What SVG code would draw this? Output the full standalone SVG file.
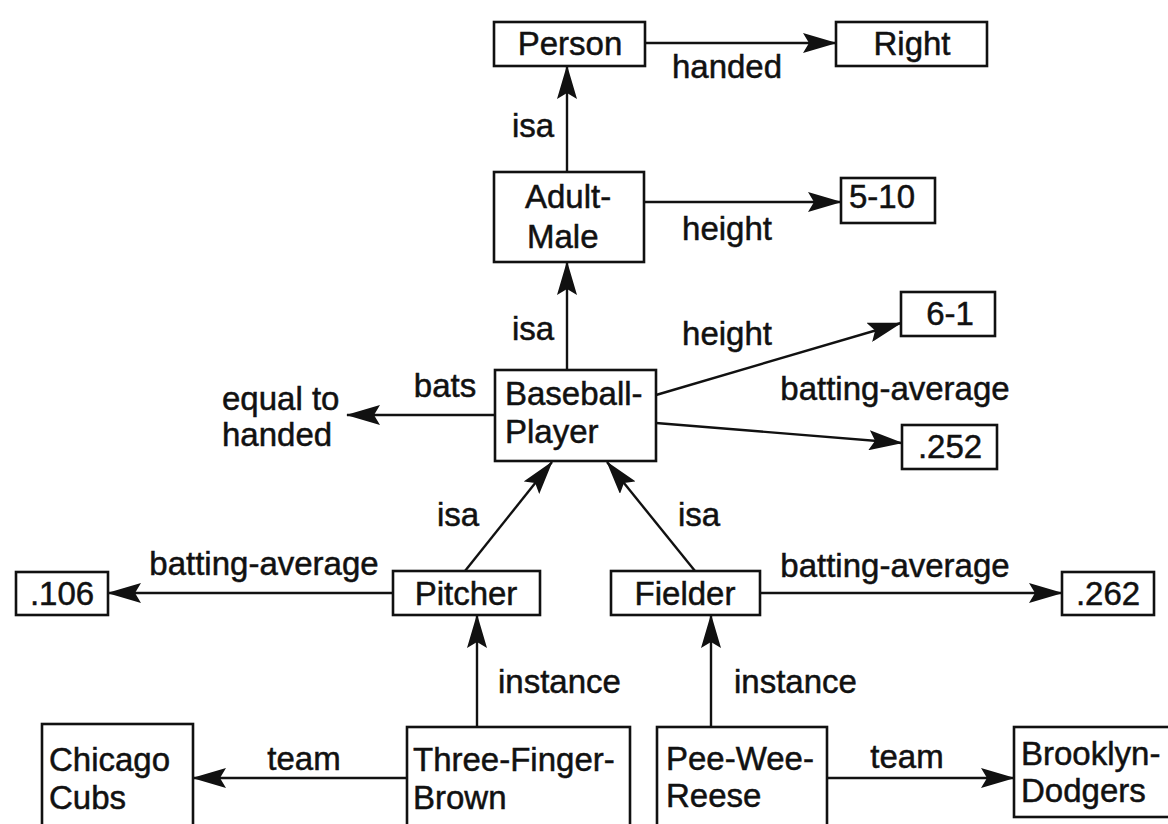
<svg xmlns="http://www.w3.org/2000/svg" width="1168" height="824" viewBox="0 0 1168 824">
<style>
  .box { fill: #ffffff; stroke: #111111; stroke-width: 2.6; }
  .t { font-family: "Liberation Sans", Arial, sans-serif; font-size: 33px; fill: #111111; stroke: #111111; stroke-width: 0.5; }
  .c { text-anchor: middle; }
  .edge { stroke: #111111; stroke-width: 2.4; fill: none; marker-end: url(#arrow); }
</style>
<defs>
  <marker id="arrow" markerUnits="userSpaceOnUse" viewBox="0 0 34 20" markerWidth="34" markerHeight="20" refX="33" refY="10" orient="auto">
    <path d="M0,0 L34,10 L0,20 L6,10 Z" fill="#111111"/>
  </marker>
</defs>
<rect width="1168" height="824" fill="#ffffff"/>

<g id="connectors">
  <line class="edge" x1="645" y1="43" x2="836" y2="43"/>
  <text class="t c" x="727" y="78">handed</text>
  <line class="edge" x1="567" y1="172" x2="567" y2="66"/>
  <text class="t c" x="533" y="137">isa</text>
  <line class="edge" x1="644" y1="202" x2="841" y2="202"/>
  <text class="t c" x="727" y="240">height</text>
  <line class="edge" x1="567" y1="370" x2="567" y2="262"/>
  <text class="t c" x="533" y="340">isa</text>
  <line class="edge" x1="656" y1="395" x2="901" y2="323"/>
  <text class="t c" x="727" y="345">height</text>
  <line class="edge" x1="656" y1="423" x2="902" y2="443"/>
  <text class="t c" x="895" y="400">batting-average</text>
  <line class="edge" x1="495" y1="415" x2="347" y2="415"/>
  <text class="t c" x="445" y="397">bats</text>
  <line class="edge" x1="465" y1="571" x2="552" y2="462"/>
  <text class="t c" x="458" y="526">isa</text>
  <line class="edge" x1="695" y1="571" x2="607" y2="462"/>
  <text class="t c" x="699" y="526">isa</text>
  <line class="edge" x1="393" y1="593" x2="108" y2="593"/>
  <text class="t c" x="264" y="575">batting-average</text>
  <line class="edge" x1="760" y1="593" x2="1062" y2="593"/>
  <text class="t c" x="895" y="577">batting-average</text>
  <line class="edge" x1="477" y1="727" x2="477" y2="615"/>
  <text class="t" x="498" y="693">instance</text>
  <line class="edge" x1="711" y1="727" x2="711" y2="615"/>
  <text class="t" x="734" y="693">instance</text>
  <line class="edge" x1="407" y1="778" x2="193" y2="778"/>
  <text class="t c" x="304" y="770">team</text>
  <line class="edge" x1="827" y1="778" x2="1014" y2="778"/>
  <text class="t c" x="907" y="768">team</text>
</g>

<g id="person">
  <rect class="box" x="494" y="22" width="151" height="44"/>
  <text class="t c" x="570" y="55">Person</text>
</g>
<g id="right">
  <rect class="box" x="836" y="22" width="151" height="44"/>
  <text class="t c" x="912" y="55">Right</text>
</g>
<g id="adult-male">
  <rect class="box" x="494" y="172" width="150" height="90"/>
  <text class="t" x="525" y="208">Adult-</text>
  <text class="t" x="527" y="248">Male</text>
</g>
<g id="h510">
  <rect class="box" x="841" y="178" width="94" height="45"/>
  <text class="t" x="849" y="208">5-10</text>
</g>
<g id="baseball-player">
  <rect class="box" x="495" y="370" width="161" height="91"/>
  <text class="t" x="505" y="405">Baseball-</text>
  <text class="t" x="505" y="443">Player</text>
</g>
<g id="h61">
  <rect class="box" x="901" y="292" width="94" height="44"/>
  <text class="t c" x="950" y="325">6-1</text>
</g>
<g id="ba252">
  <rect class="box" x="902" y="425" width="95" height="44"/>
  <text class="t c" x="950" y="458">.252</text>
</g>
<g id="equal-to-handed">
  <text class="t" x="222" y="410">equal to</text>
  <text class="t" x="222" y="446">handed</text>
</g>
<g id="pitcher">
  <rect class="box" x="393" y="571" width="147" height="44"/>
  <text class="t c" x="466" y="605">Pitcher</text>
</g>
<g id="fielder">
  <rect class="box" x="611" y="571" width="149" height="44"/>
  <text class="t c" x="685" y="605">Fielder</text>
</g>
<g id="ba106">
  <rect class="box" x="16" y="572" width="92" height="43"/>
  <text class="t c" x="62" y="605">.106</text>
</g>
<g id="ba262">
  <rect class="box" x="1062" y="572" width="92" height="43"/>
  <text class="t c" x="1108" y="605">.262</text>
</g>
<g id="chicago-cubs">
  <rect class="box" x="42" y="724" width="151" height="120"/>
  <text class="t" x="49" y="771">Chicago</text>
  <text class="t" x="49" y="809">Cubs</text>
</g>
<g id="three-finger-brown">
  <rect class="box" x="407" y="727" width="223" height="120"/>
  <text class="t" x="413" y="771">Three-Finger-</text>
  <text class="t" x="413" y="809">Brown</text>
</g>
<g id="pee-wee-reese">
  <rect class="box" x="657" y="727" width="170" height="120"/>
  <text class="t" x="666" y="770">Pee-Wee-</text>
  <text class="t" x="666" y="807">Reese</text>
</g>
<g id="brooklyn-dodgers">
  <rect class="box" x="1014" y="727" width="170" height="90"/>
  <text class="t" x="1021" y="765">Brooklyn-</text>
  <text class="t" x="1021" y="802">Dodgers</text>
</g>
</svg>
